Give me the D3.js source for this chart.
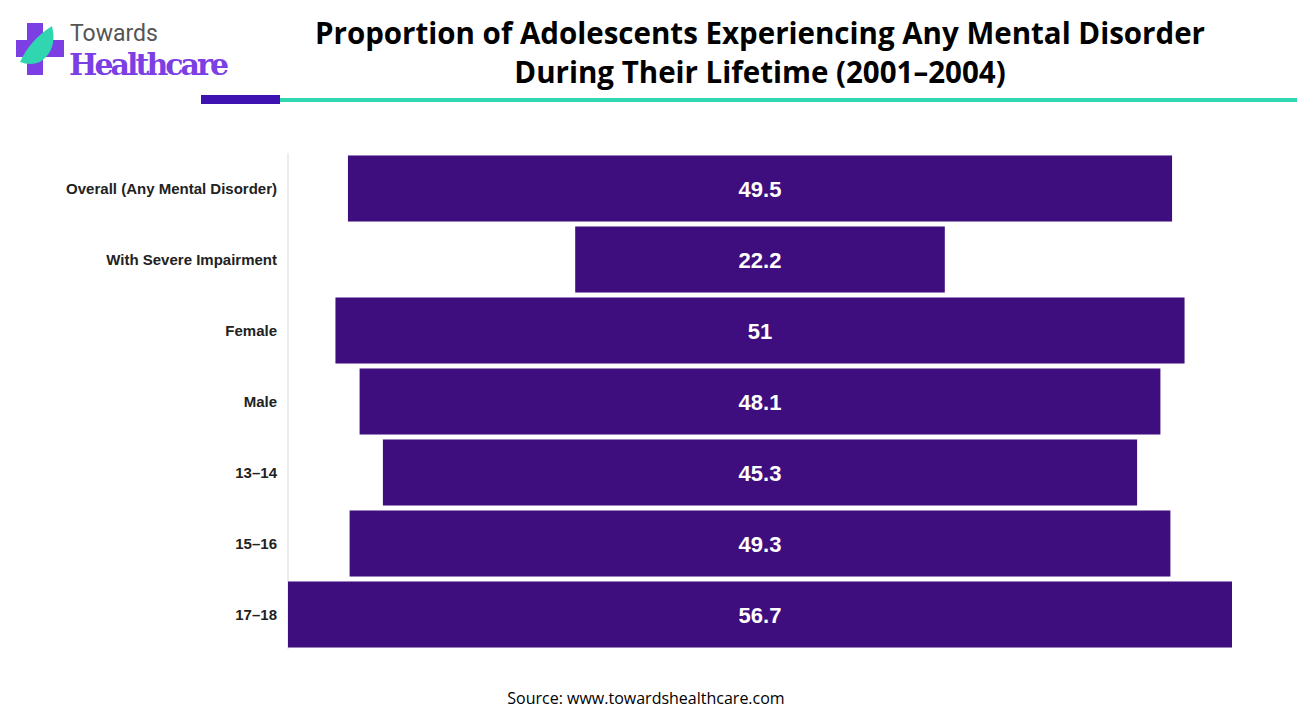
<!DOCTYPE html><html><head><meta charset="utf-8"><script src="https://cdn.jsdelivr.net/npm/d3@7"></script>
<style>body{margin:0;background:#fff}svg{display:block}</style></head><body><svg id="c" width="1297" height="717"></svg>
<script>
const categories=["Overall (Any Mental Disorder)","With Severe Impairment","Female","Male","13–14","15–16","17–18"];
const values=[49.5,22.2,51,48.1,45.3,49.3,56.7];
const labels=["49.5","22.2","51","48.1","45.3","49.3","56.7"];
const svg=d3.select("#c");
const g=svg.append("g");
g.append("rect").attr("x",27).attr("y",23).attr("width",16).attr("height",52).attr("fill","#7b3fe4");
g.append("rect").attr("x",16).attr("y",40).attr("width",48).attr("height",17).attr("fill","#7b3fe4");
g.append("path").attr("d","M20 62 Q30 40 52 26 Q58 50 40 62 Q30 66 20 62Z").attr("fill","#2fd6b0");
g.append("text").attr("x",70).attr("y",41).attr("font-family","Roboto,sans-serif").attr("font-size",23).attr("fill","#555").text("Towards");
g.append("text").attr("x",69).attr("y",75).attr("font-family","'DejaVu Serif',serif").attr("font-weight","bold").attr("font-size",30).attr("fill","#7b3fe4").attr("textLength",160).text("Healthcare");
svg.append("rect").attr("x",201).attr("y",95).attr("width",79).attr("height",9).attr("fill","#3d12b0");
svg.append("rect").attr("x",280).attr("y",98).attr("width",1017).attr("height",4).attr("fill","#2fd6b0");
["Proportion of Adolescents Experiencing Any Mental Disorder","During Their Lifetime (2001–2004)"].forEach((t,i)=>
svg.append("text").attr("x",760).attr("y",44+i*39).attr("text-anchor","middle").attr("font-family","'Open Sans',sans-serif").attr("font-weight","bold").attr("font-size",29.5).text(t));
const cx=760;
const w=d3.scaleLinear().domain([0,56.7]).range([0,944]);
const y=d3.scaleBand().domain(categories).range([153,650]).paddingInner(0.07).paddingOuter(0.035);
svg.append("line").attr("x1",288).attr("x2",288).attr("y1",153).attr("y2",649).attr("stroke","#d9d9d9");
categories.forEach((c,i)=>{
 svg.append("rect").attr("x",cx-w(values[i])/2).attr("y",y(c)).attr("width",w(values[i])).attr("height",y.bandwidth()).attr("fill","#3f0e7e");
 svg.append("text").attr("x",cx).attr("y",y(c)+y.bandwidth()/2+8).attr("text-anchor","middle").attr("fill","#fff").attr("font-family","'Liberation Sans',Arial,sans-serif").attr("font-weight","bold").attr("font-size",22).text(labels[i]);
 svg.append("text").attr("x",277).attr("y",y(c)+y.bandwidth()/2+5).attr("text-anchor","end").attr("font-family","'Liberation Sans',Arial,sans-serif").attr("font-weight","bold").attr("font-size",15).attr("fill","#222").text(c);
});
svg.append("text").attr("x",646).attr("y",704).attr("text-anchor","middle").attr("font-family","'Open Sans',sans-serif").attr("font-size",16).text("Source: www.towardshealthcare.com");
</script></body></html>
